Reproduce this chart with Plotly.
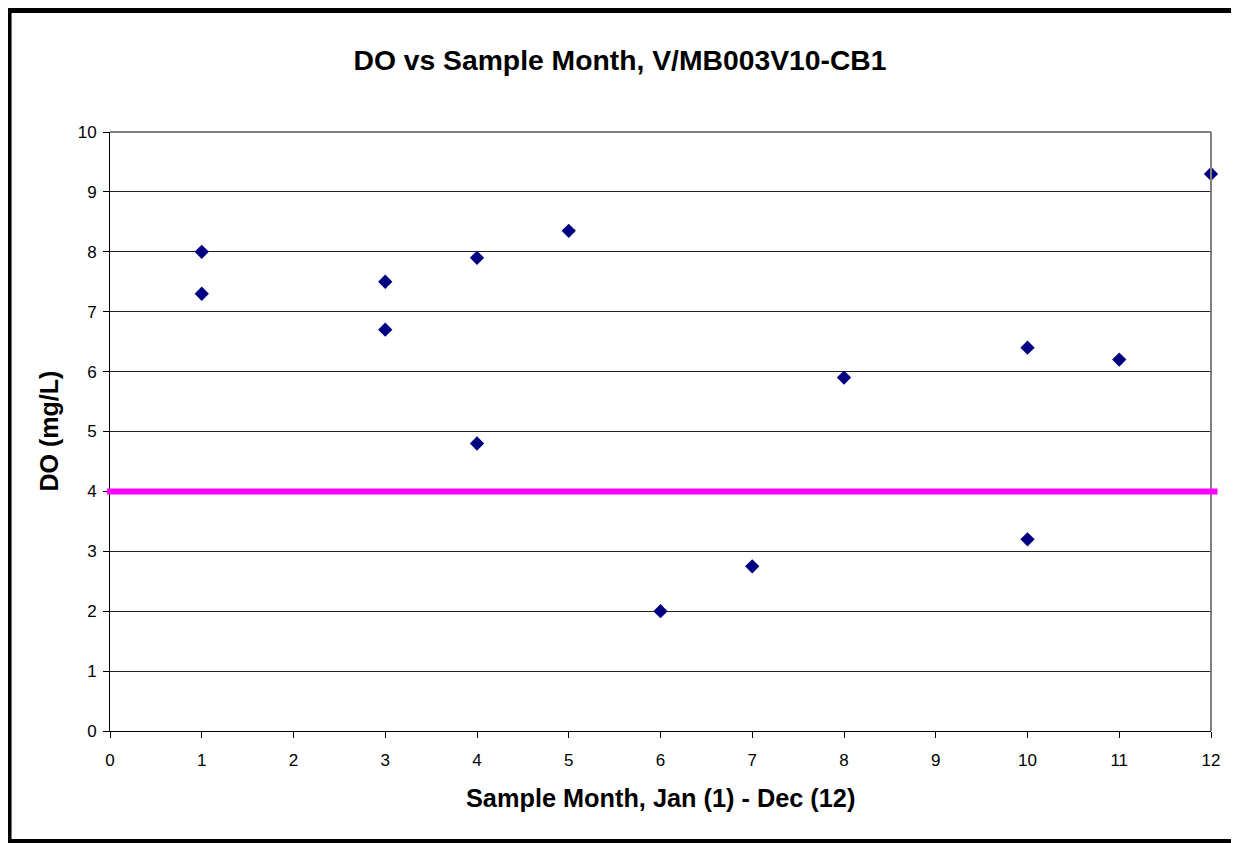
import plotly.graph_objects as go

months = [1, 1, 3, 3, 4, 4, 5, 6, 7, 8, 10, 10, 11, 12]
do_values = [8.0, 7.3, 7.5, 6.7, 7.9, 4.8, 8.35, 2.0, 2.75, 5.9, 6.4, 3.2, 6.2, 9.3]
standard_do = 4
x_ticks = list(range(0, 13))
y_ticks = list(range(0, 11))

OFF = 8  # page body margin
W, H = 1239 - OFF, 843 - OFF
# page-pixel positions of the plot area
L, R, T, B = 110, 1211.5, 131.5, 731
pw, ph = R - L, B - T

def px(xp):
    return (xp - L) / pw

def py(yp):
    return (B - yp) / ph

fig = go.Figure()
fig.add_trace(go.Scatter(
    x=months, y=do_values, mode="markers",
    marker=dict(symbol="diamond", size=11, color="#000080", line=dict(width=0)),
    cliponaxis=False, showlegend=False,
))

font = "Liberation Sans, Arial, sans-serif"

fig.update_layout(
    width=W, height=H,
    margin=dict(l=L - OFF, r=1239 - R, t=T - OFF, b=843 - B, pad=0),
    paper_bgcolor="white", plot_bgcolor="white",
    font=dict(family=font, color="black"),
    showlegend=False,
    xaxis=dict(
        range=[0, 12], tickvals=x_ticks, ticks="outside", ticklen=6, tickcolor="black",
        showline=True, linecolor="black", linewidth=1, mirror=False,
        showgrid=False, zeroline=False, ticklabelstandoff=8,
        tickfont=dict(size=17, family=font), fixedrange=True,
    ),
    yaxis=dict(
        range=[0, 10], tickvals=y_ticks, ticks="outside", ticklen=6, tickcolor="black",
        showline=True, linecolor="black", linewidth=1,
        showgrid=True, gridcolor="#222222", gridwidth=1, zeroline=False,
        ticklabelstandoff=3,
        tickfont=dict(size=17, family=font), fixedrange=True,
    ),
    title=dict(
        text="<b>DO vs Sample Month, V/MB003V10-CB1</b>",
        x=(620 - OFF) / W, xanchor="center", y=1 - (60 - OFF) / H, yanchor="middle",
        xref="container", yref="container",
        font=dict(size=28.3, family=font, color="black"),
    ),
)

# plot area top/right border (grey)
fig.add_shape(type="line", xref="paper", yref="paper", x0=0, x1=1, y0=1, y1=1,
              line=dict(color="#808080", width=2), layer="above")
fig.add_shape(type="line", xref="paper", yref="paper", x0=1, x1=1, y0=0, y1=1,
              line=dict(color="#808080", width=2), layer="above")

# threshold line
fig.add_shape(type="line", xref="paper", yref="y",
              x0=px(107), x1=px(1218), y0=standard_do, y1=standard_do,
              line=dict(color="#FF00FF", width=6), layer="above")

# outer chart border
fig.add_shape(type="rect", xref="paper", yref="paper",
              x0=px(9), x1=px(1250), y0=py(10), y1=py(841.5),
              line=dict(color="black", width=5), fillcolor="rgba(0,0,0,0)", layer="above")

fig.add_annotation(text="<b>Sample Month, Jan (1) - Dec (12)</b>", xref="paper", yref="paper",
                   x=0.5, y=py(798), xanchor="center", yanchor="middle", showarrow=False,
                   font=dict(size=25.3, family=font, color="black"))
fig.add_annotation(text="<b>DO (mg/L)</b>", xref="paper", yref="paper",
                   x=px(48), y=0.5, xanchor="center", yanchor="middle", showarrow=False,
                   textangle=-90, font=dict(size=25, family=font, color="black"))

fig.write_html("out.html")
